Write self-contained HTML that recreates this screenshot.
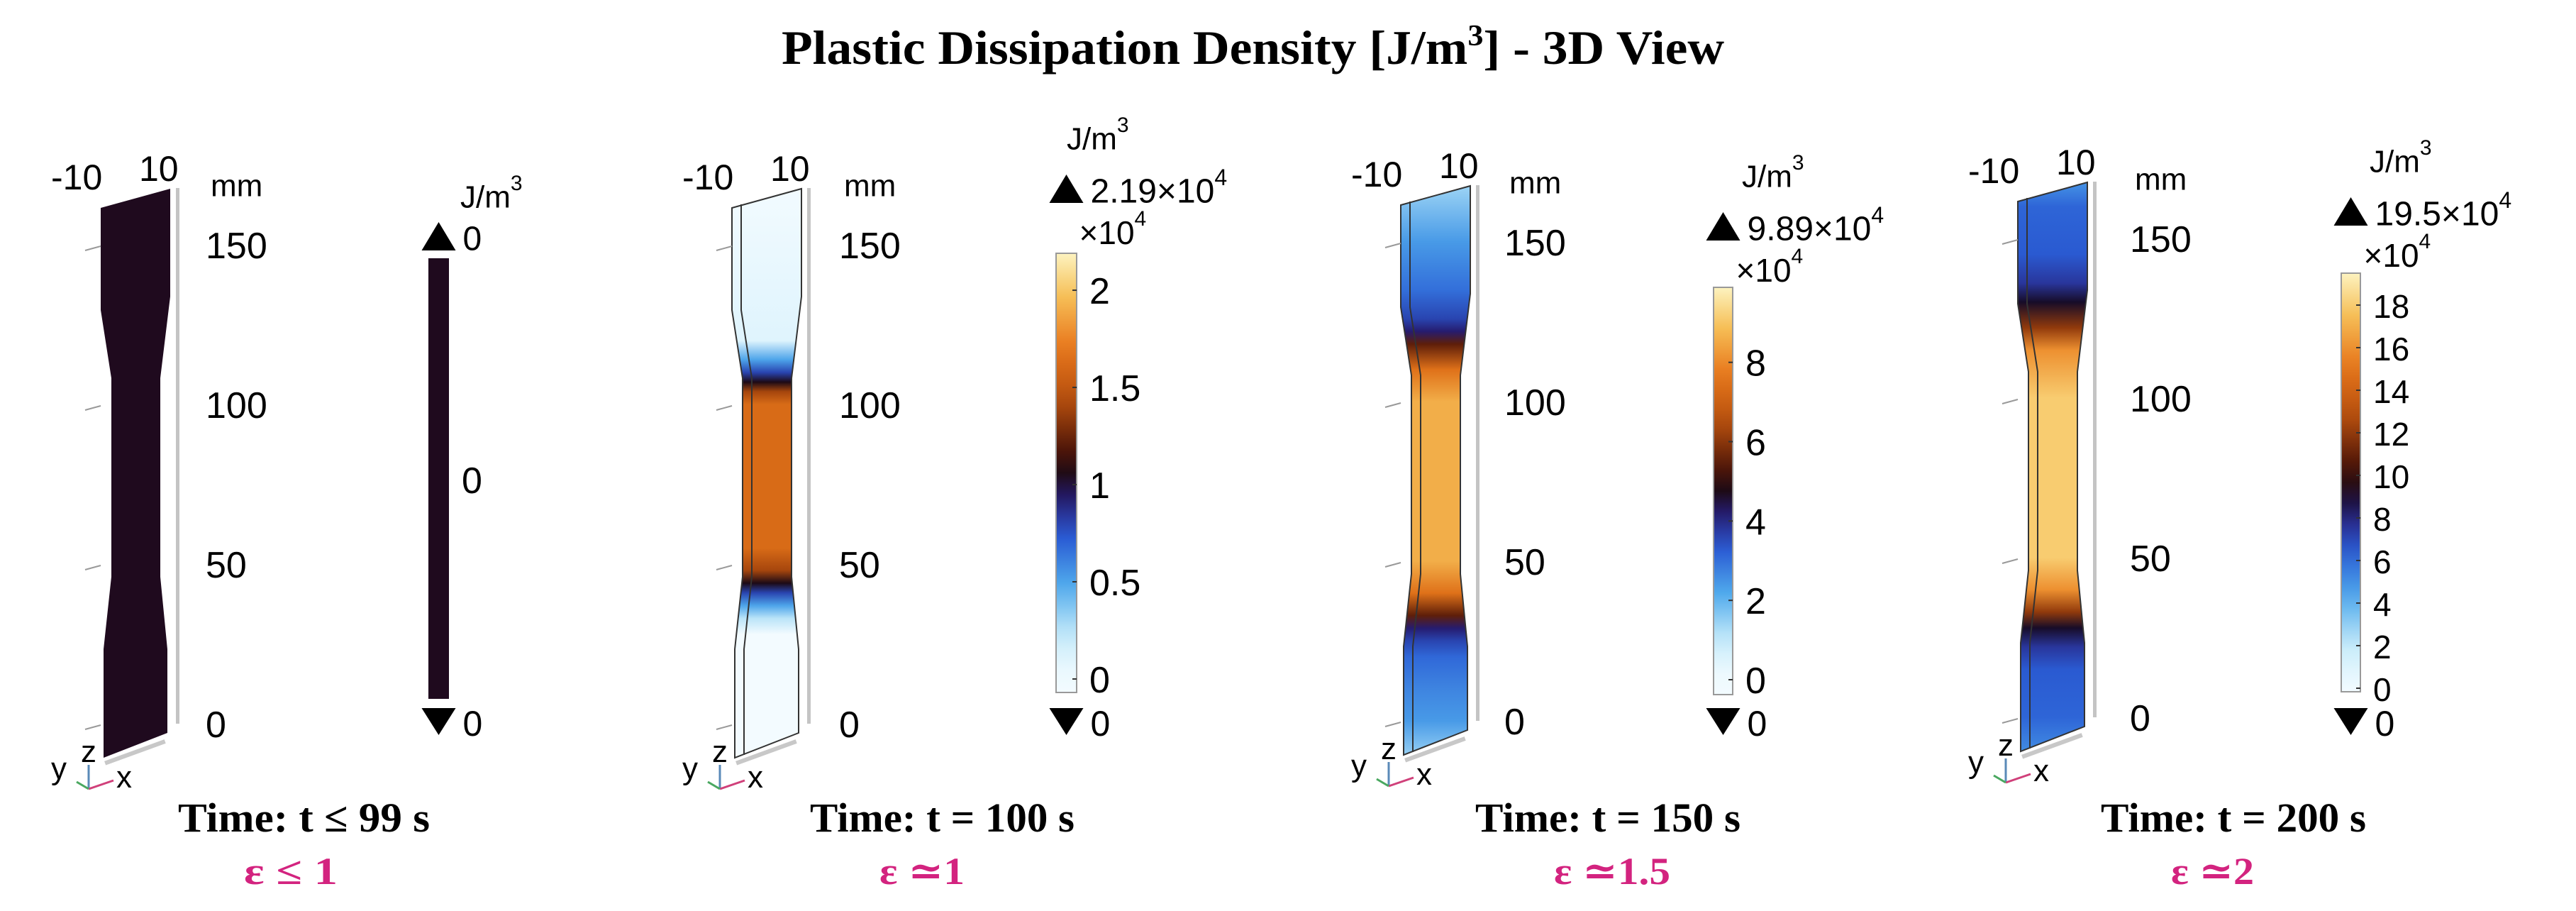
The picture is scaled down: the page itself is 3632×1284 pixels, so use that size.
<!DOCTYPE html>
<html><head><meta charset="utf-8">
<style>
html,body{margin:0;padding:0;background:#fff;}
svg{display:block;}
</style></head>
<body>
<svg id="fig" xmlns="http://www.w3.org/2000/svg" width="3632" height="1284" viewBox="0 0 3632 1284">
<defs id="defs"></defs>
<rect x="0" y="0" width="3632" height="1284" fill="#fff"/>
<text x="1102" y="90" textLength="1329" lengthAdjust="spacingAndGlyphs" font-family="Liberation Serif, serif" font-weight="bold" font-size="68" fill="#000">Plastic Dissipation Density [J/m<tspan font-size="42" dy="-26">3</tspan><tspan dy="26">] - 3D View</tspan></text>
<g id="panels"></g>
</svg>
<script>
// ---- data ----
const cbMax = [0, 2.19, 9.89, 19.5];
const cbTicks2 = [0, 0.5, 1, 1.5, 2];
const cbTicks3 = [0, 2, 4, 6, 8];
const cbTicks4 = [0, 2, 4, 6, 8, 10, 12, 14, 16, 18];
const axisTicks = [0, 50, 100, 150];
const timeLabels = ["Time: t \u2264 99 s", "Time: t = 100 s", "Time: t = 150 s", "Time: t = 200 s"];
const strainLabels = ["\u03b5 \u2264 1", "\u03b5 \u22431", "\u03b5 \u22431.5", "\u03b5 \u22432"];
const maxLabels = ["0", "2.19\u00d710", "9.89\u00d710", "19.5\u00d710"];
// field profiles along specimen length (z in mm, values in 1e4 J/m^3)
const profZ2 = [-12, 28, 33, 37, 41, 44, 48, 55, 100, 104, 107, 110, 114, 120, 170];
const profV2 = [0, 0, 0.25, 0.5, 0.8, 1.05, 1.4, 1.62, 1.62, 1.4, 1.05, 0.8, 0.5, 0.1, 0];
const profZ3 = [-12, 0, 10, 20, 25, 29, 33, 40, 50, 100, 110, 118, 122, 126, 135, 150, 168];
const profV3 = [1.4, 2.4, 2.7, 3.1, 3.6, 4.2, 5.5, 7.5, 8.6, 8.6, 7.5, 5.5, 4.2, 3.6, 3.0, 2.4, 1.4];
const profZ4 = [-12, 0, 15, 22, 28, 33, 40, 50, 100, 115, 122, 130, 136, 145, 160, 170];
const profV4 = [5, 6.2, 6.5, 7.5, 9, 12, 16, 18, 18, 16, 12, 9, 7.5, 6.5, 6.2, 4.5];

// ---- layout ----
const NS = "http://www.w3.org/2000/svg";
const root = document.getElementById("panels");
const defs = document.getElementById("defs");
const PX_PER_MM = 4.5;
const geo = [
  {dx: 0,    dy: 0,  zero: 1020, lab: 290,  cbx: 604,  cbw: 29, cbTop: 364, cbBot: 985, cbZero: 985, time: 251,  eps: 344, tw: 355, ew: 132},
  {dx: 890,  dy: 0,  zero: 1020, lab: 1183, cbx: 1489, cbw: 29, cbTop: 357, cbBot: 976, cbZero: 957, time: 1142, eps: 1240, tw: 373, ew: 120},
  {dx: 1833, dy: -4, zero: 1016, lab: 2121, cbx: 2416, cbw: 27, cbTop: 405, cbBot: 979, cbZero: 958, time: 2080, eps: 2191, tw: 374, ew: 164},
  {dx: 2703, dy: -9, zero: 1011, lab: 3003, cbx: 3301, cbw: 27, cbTop: 385, cbBot: 975, cbZero: 970, time: 2962, eps: 3061, tw: 374, ew: 117}
];
const profZ = [null, profZ2, profZ3, profZ4];
const profV = [null, profV2, profV3, profV4];
const cbTicks = [[0], cbTicks2, cbTicks3, cbTicks4];

const cmapStops = [
  [0, [243,251,255]], [0.1, [200,236,250]], [0.22, [80,170,236]], [0.33, [42,92,212]],
  [0.42, [40,30,120]], [0.47, [20,8,24]], [0.54, [80,22,8]], [0.66, [184,80,14]],
  [0.78, [232,120,28]], [0.9, [246,192,88]], [1, [253,243,192]]
];
function cmap(t) {
  t = Math.max(0, Math.min(1, t));
  for (let i = 1; i < cmapStops.length; i++) {
    if (t <= cmapStops[i][0]) {
      const a = cmapStops[i-1], b = cmapStops[i];
      const f = (t - a[0]) / (b[0] - a[0]);
      const c = a[1].map((v, k) => Math.round(v + (b[1][k] - v) * f));
      return "rgb(" + c.join(",") + ")";
    }
  }
  return "rgb(253,243,192)";
}
function el(tag, attrs, parent) {
  const e = document.createElementNS(NS, tag);
  for (const k in attrs) e.setAttribute(k, attrs[k]);
  (parent || root).appendChild(e);
  return e;
}
function txt(str, attrs, parent) { const t = el("text", attrs, parent); t.textContent = str; return t; }

const shape = [[142,293],[240,266],[240,418],[226,533],[226,813],[236,915],[236,1033],[146,1068],[146,915],[157,813],[157,533],[142,437]];

for (let p = 0; p < 4; p++) {
  const g = geo[p];
  const grp = el("g", {});
  
  
  const zy = z => g.zero - z * PX_PER_MM;
  const pts = shape.map(([x, y]) => (x + g.dx) + "," + (y + g.dy)).join(" ");
  let fill = "#1f0a1e";
  if (p > 0) {
    const gid = "sg" + p;
    const lg = el("linearGradient", {id: gid, gradientUnits: "userSpaceOnUse", x1: 0, x2: 0, y1: zy(170), y2: zy(-12)}, defs);
    const y1 = zy(170), y2 = zy(-12);
    for (let i = profZ[p].length - 1; i >= 0; i--) {
      const off = (zy(profZ[p][i]) - y1) / (y2 - y1);
      el("stop", {offset: off, "stop-color": cmap(profV[p][i] / cbMax[p])}, lg);
    }
    fill = "url(#" + gid + ")";
  }
  const spec = el("polygon", {points: pts, fill: fill, stroke: p > 0 ? "#333" : "none", "stroke-width": 2}, grp);
  
  
  if (p > 0) {
    const edge = el("polyline", {points: [[155,288],[155,437],[170,533],[170,813],[159,915],[159,1064]].map(([x,y]) => (x+g.dx)+","+(y+g.dy)).join(" "), fill: "none", stroke: "#333", "stroke-width": 2}, grp);
    
    
  }
  const ax = el("rect", {x: 248 + g.dx, y: 265 + g.dy, width: 5, height: 755, fill: "#c4c4c4"}, grp);
  
  
  const bx = el("rect", {x: 148 + g.dx, y: 1072 + g.dy, width: 90, height: 6, fill: "#c8c8c8", transform: "rotate(-20 " + (150 + g.dx) + " " + (1075 + g.dy) + ")"}, grp);
  
  
  axisTicks.forEach(v => {
    const t = txt(String(v), {x: g.lab, y: zy(v) + 2, "dominant-baseline": "central", "font-family": "Liberation Sans, sans-serif", "font-size": 52, fill: "#000"}, grp);
    
    
    const tk = el("line", {x1: 120 + g.dx, x2: 142 + g.dx, y1: zy(v) + 8, y2: zy(v) + 2, stroke: "#999", "stroke-width": 2}, grp);
    
    
  });
  const mm = txt("mm", {x: g.lab + 7, y: 262 + g.dy, "dominant-baseline": "central", "font-family": "Liberation Sans, sans-serif", "font-size": 44, fill: "#000"}, grp);
  
  
  const xm = txt("-10", {x: 72 + g.dx, y: 250 + g.dy, "dominant-baseline": "central", "font-family": "Liberation Sans, sans-serif", "font-size": 50, fill: "#000"}, grp);
  
  
  const xp = txt("10", {x: 196 + g.dx, y: 238 + g.dy, "dominant-baseline": "central", "font-family": "Liberation Sans, sans-serif", "font-size": 50, fill: "#000"}, grp);
  
  
  const tri = el("g", {}, grp);
  
  
  el("line", {x1: 125 + g.dx, y1: 1112 + g.dy, x2: 125 + g.dx, y2: 1078 + g.dy, stroke: "#5a8ab8", "stroke-width": 3}, tri);
  el("line", {x1: 125 + g.dx, y1: 1112 + g.dy, x2: 160 + g.dx, y2: 1100 + g.dy, stroke: "#d0407a", "stroke-width": 3}, tri);
  el("line", {x1: 125 + g.dx, y1: 1112 + g.dy, x2: 108 + g.dx, y2: 1102 + g.dy, stroke: "#4aa860", "stroke-width": 3}, tri);
  txt("z", {x: 114 + g.dx, y: 1074 + g.dy, "font-family": "Liberation Sans, sans-serif", "font-size": 44, fill: "#000"}, tri);
  txt("x", {x: 164 + g.dx, y: 1110 + g.dy, "font-family": "Liberation Sans, sans-serif", "font-size": 44, fill: "#000"}, tri);
  txt("y", {x: 72 + g.dx, y: 1098 + g.dy, "font-family": "Liberation Sans, sans-serif", "font-size": 44, fill: "#000"}, tri);

  const cb = el("g", {}, grp);
  
  
  let cfill = "#1f0a1e";
  const scale = p > 0 ? (g.cbZero - g.cbTop) / cbMax[p] : 0;
  if (p > 0) {
    const cid = "cg" + p;
    const lg = el("linearGradient", {id: cid, gradientUnits: "userSpaceOnUse", x1: 0, x2: 0, y1: g.cbTop, y2: g.cbBot}, defs);
    for (let i = 0; i <= 20; i++) {
      const y = g.cbTop + (g.cbBot - g.cbTop) * i / 20;
      const v = (g.cbZero - y) / scale;
      el("stop", {offset: i / 20, "stop-color": cmap(v / cbMax[p])}, lg);
    }
    cfill = "url(#" + cid + ")";
  }
  const bar = el("rect", {x: g.cbx, y: g.cbTop, width: g.cbw, height: g.cbBot - g.cbTop, fill: cfill, stroke: p > 0 ? "#999" : "none", "stroke-width": 2}, cb);
  
  
  const cx = g.cbx + g.cbw / 2;
  const upY = p === 0 ? 313 : (p === 1 ? 246 : (p === 2 ? 299 : 278));
  const up = el("polygon", {points: (cx-24)+","+(upY+40)+" "+(cx+24)+","+(upY+40)+" "+cx+","+upY, fill: "#000"}, cb);
  
  
  const dn = el("polygon", {points: (cx-24)+",998 "+(cx+24)+",998 "+cx+",1036", fill: "#000"}, cb);
  
  
  const lx = g.cbx + g.cbw + 18;
  const mx = txt(maxLabels[p], {x: cx + 34, y: upY + 24, "dominant-baseline": "central", "font-family": "Liberation Sans, sans-serif", "font-size": 48, fill: "#000"}, cb);
  if (p > 0) { const s = el("tspan", {"font-size": 32, dy: -20}, mx); s.textContent = "4"; }
  
  
  const mn = txt("0", {x: cx + 34, y: 1020, "dominant-baseline": "central", "font-family": "Liberation Sans, sans-serif", "font-size": 50, fill: "#000"}, cb);
  
  
  const unit = txt("J/m", {x: p === 0 ? 649 : g.cbx - 10 + (p===1?25:50), y: upY - (p === 0 ? 35 : 50), "dominant-baseline": "central", "font-family": "Liberation Sans, sans-serif", "font-size": 44, fill: "#000"}, cb);
  const u3 = el("tspan", {"font-size": 30, dy: -20}, unit); u3.textContent = "3";
  
  
  if (p > 0) {
    const mul = txt("\u00d710", {x: cx + 18, y: upY + 82, "dominant-baseline": "central", "font-family": "Liberation Sans, sans-serif", "font-size": 46, fill: "#000"}, cb);
    const m4 = el("tspan", {"font-size": 30, dy: -20}, mul); m4.textContent = "4";
    
    
  }
  cbTicks[p].forEach(v => {
    const y = p > 0 ? g.cbZero - v * scale : 676;
    const t = txt(String(v), {x: lx, y: y + 2, "dominant-baseline": "central", "font-family": "Liberation Sans, sans-serif", "font-size": p === 3 ? 46 : 52, fill: "#000"}, cb);
    
    
    if (p > 0) {
      const tk = el("line", {x1: g.cbx + g.cbw - 6, x2: g.cbx + g.cbw, y1: y, y2: y, stroke: "#333", "stroke-width": 2}, cb);
      
      
    }
  });
  const tl = txt(timeLabels[p], {x: g.time, y: 1172, textLength: g.tw, lengthAdjust: "spacingAndGlyphs", "font-family": "Liberation Serif, serif", "font-weight": "bold", "font-size": 58, fill: "#000"}, grp);
  
  
  const sl = txt(strainLabels[p], {x: g.eps, y: 1246, textLength: g.ew, lengthAdjust: "spacingAndGlyphs", "font-family": "Liberation Serif, DejaVu Serif, serif", "font-weight": "bold", "font-size": 54, fill: "#d3237f"}, grp);
  
  
}
</script>
</body></html>
